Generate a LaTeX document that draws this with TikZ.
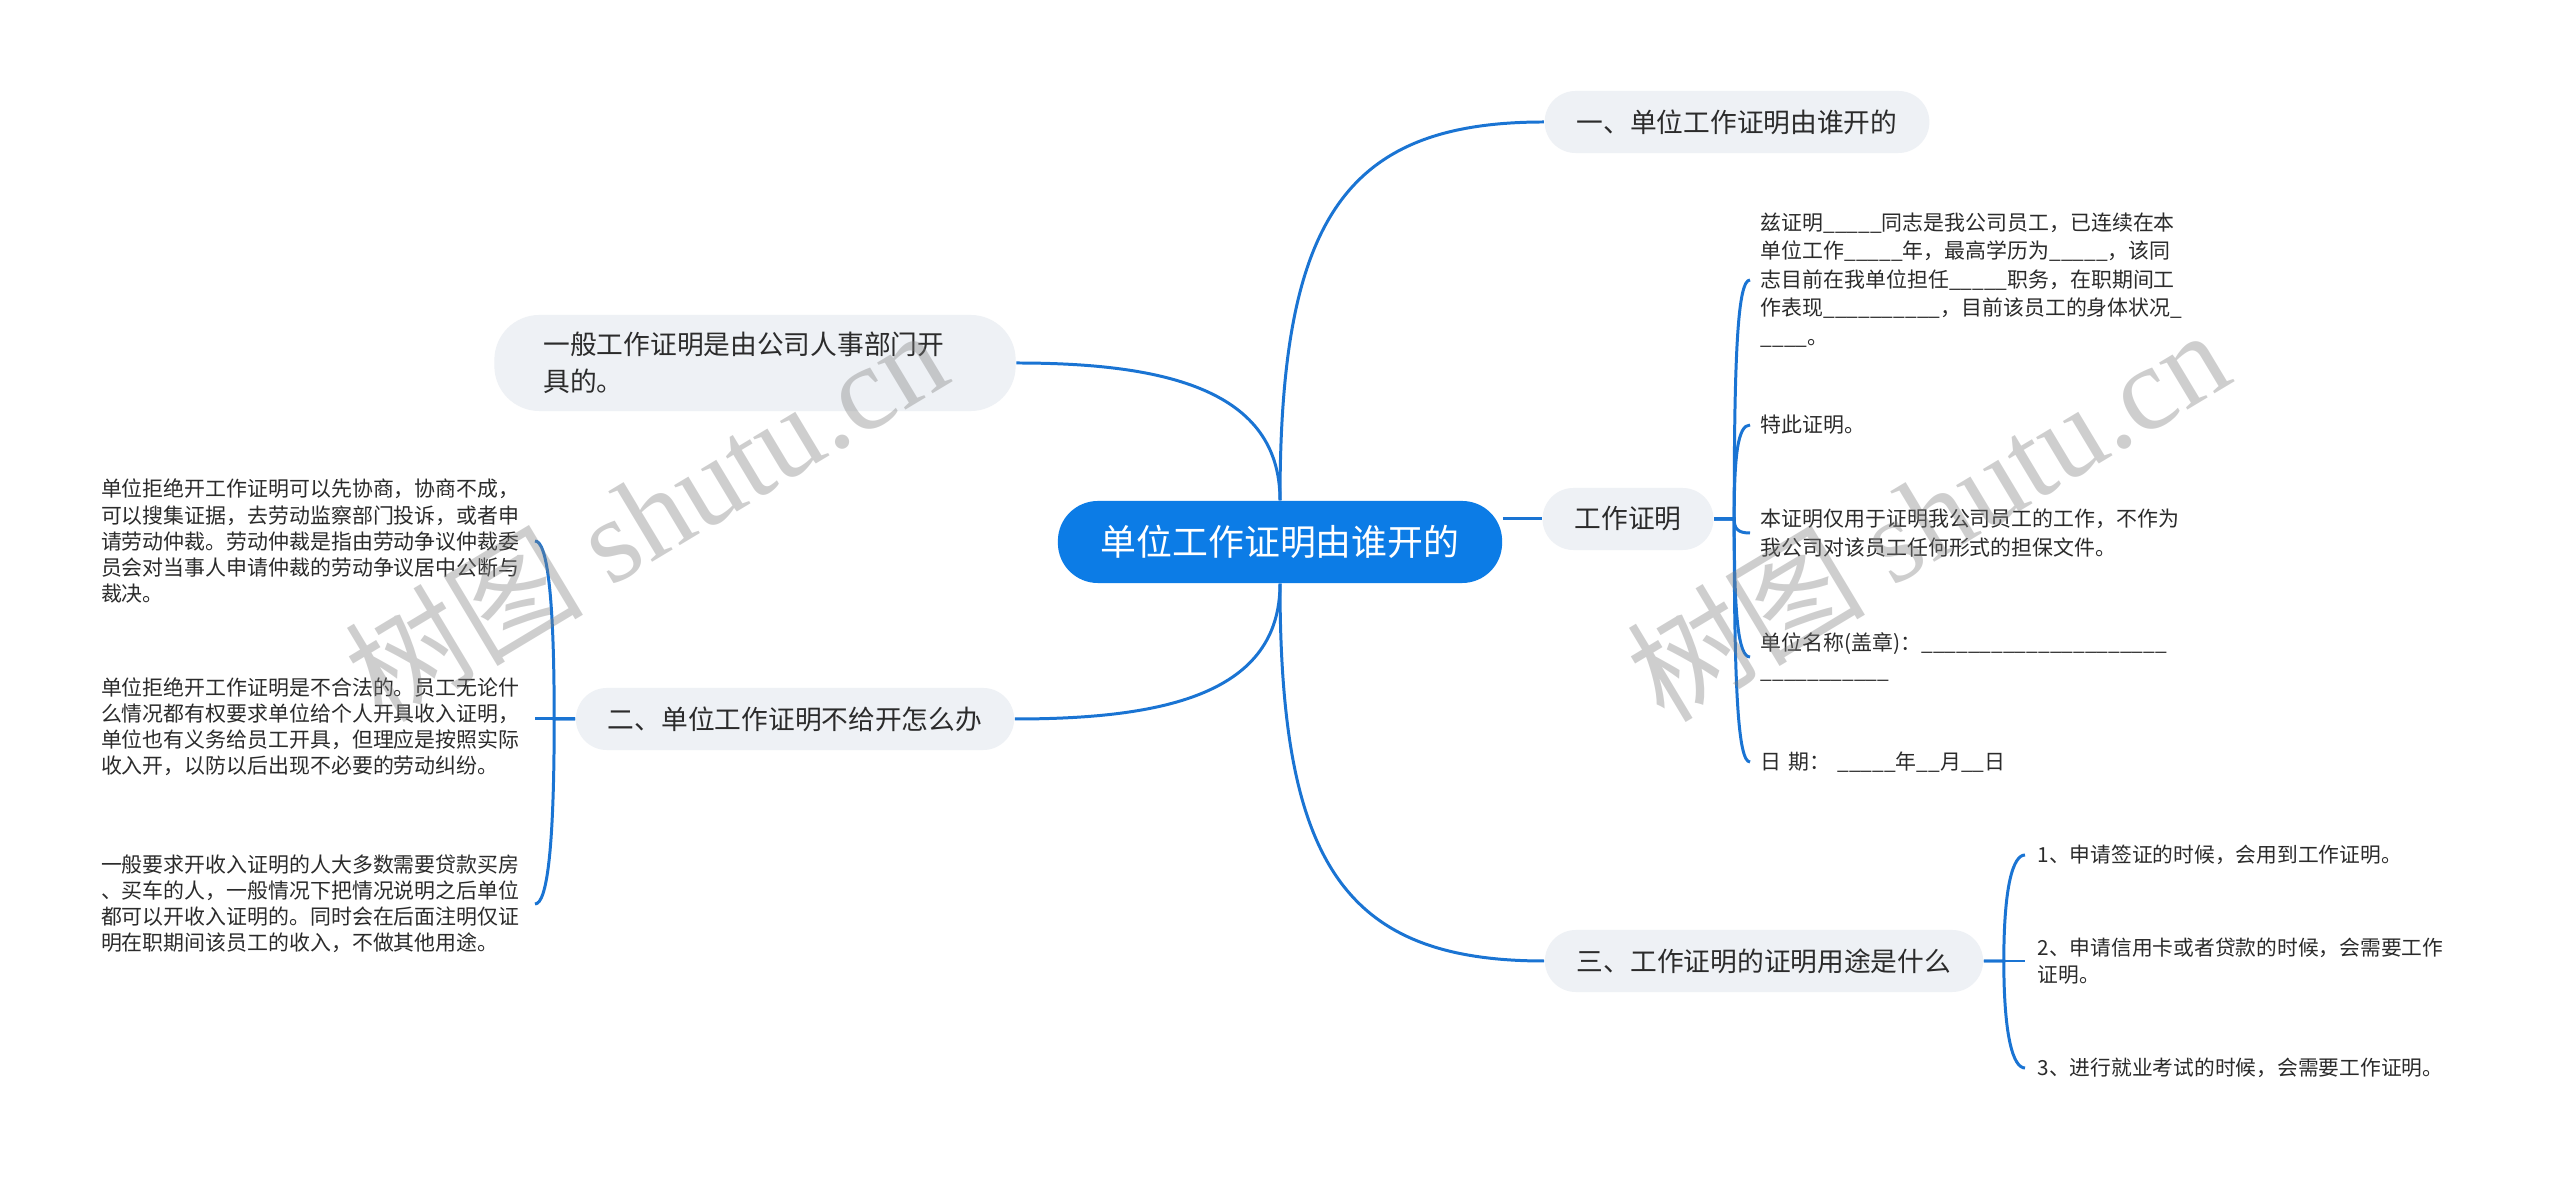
\documentclass[tikz,border=0pt]{standalone}
\usepackage{fontspec}
\setmainfont{Noto Sans CJK SC}
\newfontfamily\wmlatin{Liberation Serif}
\definecolor{rootblue}{HTML}{0C7CE6}
\definecolor{lineblue}{HTML}{1A74D3}
\definecolor{topicfill}{HTML}{EEF1F5}
\definecolor{inkgray}{HTML}{2B2B2B}

\begin{document}
\begin{tikzpicture}[x=0.01cm, y=-0.01cm,
	bline/.style={draw=lineblue, line width=0.85pt},
	rootbox/.style={fill=rootblue, text=white, rounded corners=0.4cm, minimum width=4.44cm, minimum height=0.82cm, font=\fontsize{10.2pt}{12pt}\selectfont},
	topic/.style={fill=topicfill, text=inkgray, rounded corners=0.31cm, minimum height=0.62cm, inner xsep=0.32cm, font=\fontsize{7.6pt}{9pt}\selectfont},
	leaf/.style={text=inkgray, align=left, inner xsep=0.1cm, inner ysep=0.05cm},
	rightleaf/.style={leaf, anchor=west, text width=4.3cm, font=\fontsize{5.95pt}{8.1pt}\selectfont},
	leftleaf/.style={leaf, anchor=east, inner xsep=0.15cm, text width=4.18cm, font=\fontsize{5.95pt}{7.4pt}\selectfont},
	useleaf/.style={leaf, anchor=west, inner xsep=0.12cm, text width=4.7cm, font=\fontsize{5.9pt}{7.7pt}\selectfont},
	wmark/.style={text=gray, opacity=0.38, rotate=31, font=\fontsize{34pt}{36pt}\selectfont}]
	\path[use as bounding box, fill=white] (0,0) rectangle (2560,1183);

	% centre and first level
	\node[rootbox] (root) at (1280,542) {单位工作证明由谁开的};
	\node[topic] (who) at (1737,122) {一、单位工作证明由谁开的};
	\node[topic] (cert) at (1628,519) {工作证明};
	\node[topic, rounded corners=0.45cm, minimum height=0.96cm, inner xsep=0.49cm, text width=4.23cm, align=left, font=\fontsize{7.6pt}{10.5pt}\selectfont] (hr) at (755,363) {一般工作证明是由公司人事部门开\\具的。};
	\node[topic] (refuse) at (795,719) {二、单位工作证明不给开怎么办};
	\node[topic] (usage) at (1764,961) {三、工作证明的证明用途是什么};

	\draw[bline] (root.north) .. controls +(0,-280) and +(-200,0) .. (who.west);
	\draw[bline] (root.north) .. controls +(0,-110) and +(150,0) .. (hr.east);
	\draw[bline] (root.south) .. controls +(0,110) and +(150,0) .. (refuse.east);
	\draw[bline] (root.south) .. controls +(0,280) and +(-200,0) .. (usage.west);
	\draw[bline] (root.east |- cert.west) -- (cert.west);

	% 工作证明
	\node[rightleaf] (c1) at (1750,280) {兹证明\_\_\_\_\_同志是我公司员工，已连续在本\\单位工作\_\_\_\_\_年，最高学历为\_\_\_\_\_，该同\\志目前在我单位担任\_\_\_\_\_职务，在职期间工\\作表现\_\_\_\_\_\_\_\_\_\_，目前该员工的身体状况\_\\\_\_\_\_。};
	\node[rightleaf] (c2) at (1750,425) {特此证明。};
	\node[rightleaf] (c3) at (1750,533) {本证明仅用于证明我公司员工的工作，不作为\\我公司对该员工任何形式的担保文件。};
	\node[rightleaf] (c4) at (1750,657) {单位名称(盖章)：\_\_\_\_\_\_\_\_\_\_\_\_\_\_\_\_\_\_\_\_\_\\\_\_\_\_\_\_\_\_\_\_\_};
	\node[rightleaf] (c5) at (1750,762) {日 期： \_\_\_\_\_年\_\_月\_\_日};
	\draw[bline] (cert.east) -- ++(20,0) .. controls +(0,-170) and +(-12,0) .. (c1.west);
	\draw[bline] (cert.east) -- ++(20,0) .. controls +(0,-65) and +(-12,0) .. (c2.west);
	\draw[bline] (cert.east) -- ++(20,0) .. controls +(0,10) and +(-12,0) .. (c3.west);
	\draw[bline] (cert.east) -- ++(20,0) .. controls +(0,95) and +(-12,0) .. (c4.west);
	\draw[bline] (cert.east) -- ++(20,0) .. controls +(0,170) and +(-12,0) .. (c5.west);

	% 二
	\node[leftleaf] (r1) at (535,541) {单位拒绝开工作证明可以先协商，协商不成，\\可以搜集证据，去劳动监察部门投诉，或者申\\请劳动仲裁。劳动仲裁是指由劳动争议仲裁委\\员会对当事人申请仲裁的劳动争议居中公断与\\裁决。};
	\node[leftleaf] (r2) at (535,727) {单位拒绝开工作证明是不合法的。员工无论什\\么情况都有权要求单位给个人开具收入证明，\\单位也有义务给员工开具，但理应是按照实际\\收入开，以防以后出现不必要的劳动纠纷。};
	\node[leftleaf] (r3) at (535,904) {一般要求开收入证明的人大多数需要贷款买房\\、买车的人，一般情况下把情况说明之后单位\\都可以开收入证明的。同时会在后面注明仅证\\明在职期间该员工的收入，不做其他用途。};
	\draw[bline] (refuse.west) -- ++(-21,0) .. controls +(0,-125) and +(12,0) .. (r1.east);
	\draw[bline] (refuse.west) -- (r2.east |- refuse.west);
	\draw[bline] (refuse.west) -- ++(-21,0) .. controls +(0,130) and +(12,0) .. (r3.east);

	% 三
	\node[useleaf] (u1) at (2025,855) {1、申请签证的时候，会用到工作证明。};
	\node[useleaf] (u2) at (2025,961) {2、申请信用卡或者贷款的时候，会需要工作\\证明。};
	\node[useleaf] (u3) at (2025,1068) {3、进行就业考试的时候，会需要工作证明。};
	\draw[bline] (usage.east) -- ++(20,0) .. controls +(0,-75) and +(-12,0) .. (u1.west);
	\draw[bline] (usage.east) -- (u2.west);
	\draw[bline] (usage.east) -- ++(20,0) .. controls +(0,75) and +(-12,0) .. (u3.west);

	\node[wmark] (wm1) at (645,514) {树图 {\wmlatin shutu.cn}};
	\node[wmark] (wm2) at (1927,514) {树图 {\wmlatin shutu.cn}};
\end{tikzpicture}
\end{document}
